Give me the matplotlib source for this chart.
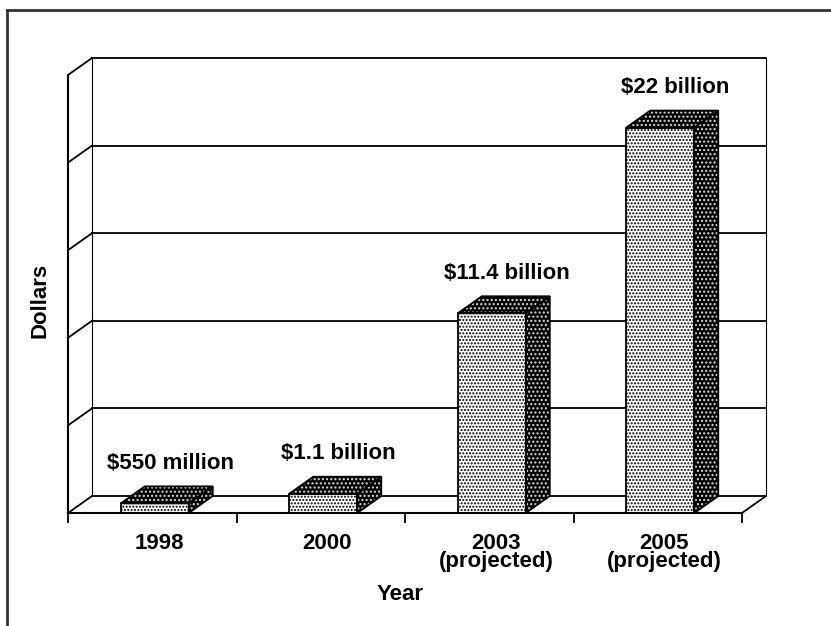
import numpy as np
import matplotlib
matplotlib.use('Agg')
import matplotlib.pyplot as plt
from matplotlib.patches import Polygon
from matplotlib.lines import Line2D

plt.rcParams['font.family'] = ['Liberation Sans', 'DejaVu Sans']
plt.rcParams['font.weight'] = 'bold'
plt.rcParams['hatch.linewidth'] = 1.0

# data (billions of dollars)
years = ['1998', '2000', '2003\n(projected)', '2005\n(projected)']
values = [0.55, 1.1, 11.4, 22.0]
value_labels = ['$550 million', '$1.1 billion', '$11.4 billion', '$22 billion']
grid_levels = [5, 10, 15, 20, 25]

W, H = 831, 626
FS = 16
fig = plt.figure(figsize=(W / 100, H / 100), dpi=100)
ax = fig.add_axes([68 / W, 113 / H, 674 / W, 438 / H])
ax.set_xlim(-0.5, 3.5)
ax.set_ylim(0, 25)

# 3d depth offset, pixels -> data units
depth_px = (24, 17)
ax_w = 674 / 4.0
ax_h = 438 / 25.0
ddx = depth_px[0] / ax_w
ddy = depth_px[1] / ax_h

line_kw = dict(color='black', lw=1.3, clip_on=False, zorder=1)
x0, x1 = -0.5, 3.5

# back wall + floor
for g in grid_levels:
    ax.add_line(Line2D([x0 + ddx, x1 + ddx], [g + ddy, g + ddy], **line_kw))
for g in [0] + grid_levels:
    ax.add_line(Line2D([x0, x0 + ddx], [g, g + ddy], **line_kw))
ax.add_line(Line2D([x0 + ddx, x1 + ddx], [ddy, ddy], **line_kw))
ax.add_line(Line2D([x0 + ddx, x0 + ddx], [ddy, 25 + ddy], color='black', lw=0.8, clip_on=False, zorder=1))
ax.add_line(Line2D([x1 + ddx, x1 + ddx], [ddy, 25 + ddy], color='black', lw=0.8, clip_on=False, zorder=1))
ax.add_line(Line2D([x1, x1 + ddx], [0, ddy], **line_kw))


def face(pts, fc, hc, hatch):
    ax.add_patch(Polygon(pts, closed=True, facecolor=fc, edgecolor=hc, hatch=hatch,
                         lw=0, clip_on=False, zorder=3))
    ax.add_patch(Polygon(pts, closed=True, fill=False, edgecolor='black',
                         lw=1.3, clip_on=False, zorder=4))


bar_w = 68 / ax_w
for i, (v, lab) in enumerate(zip(values, value_labels)):
    c = i + 0.015
    a, b = c - bar_w / 2, c + bar_w / 2
    # front
    face([(a, 0), (b, 0), (b, v), (a, v)], 'white', 'black', '.....')
    # top
    face([(a, v), (b, v), (b + ddx, v + ddy), (a + ddx, v + ddy)], 'black', '#dddddd', '....')
    # side
    face([(b, 0), (b + ddx, ddy), (b + ddx, v + ddy), (b, v)], 'black', '#dddddd', '....')
    ax.annotate(lab, xy=(c + ddx / 2 + 0.02, v + ddy), xytext=(0, 16.5),
                textcoords='offset points', ha='center', va='center',
                fontsize=FS, fontweight='bold', annotation_clip=False)

# axes
for s in ['top', 'right']:
    ax.spines[s].set_visible(False)
for s in ['left', 'bottom']:
    ax.spines[s].set_linewidth(1.5)
    ax.spines[s].set_zorder(5)
ax.set_yticks([])
ax.set_xticks(np.arange(len(years)) + 0.04)
ax.set_xticklabels(years, fontsize=FS, fontweight='bold')
for t in ax.get_xticklabels():
    t.set_linespacing(0.82)
ax.set_xticks(np.arange(-0.5, 4.0, 1.0), minor=True)
ax.tick_params(axis='x', which='major', length=0, pad=14.5)
ax.tick_params(axis='x', which='minor', length=7, width=1.3, direction='out')

fig.text(400 / W, 1 - 594 / H, 'Year', ha='center', va='center', fontsize=FS, fontweight='bold')
fig.text(40 / W, 1 - 300 / H, 'Dollars', ha='center', va='center', rotation=90,
         fontsize=FS, fontweight='bold')

# outer frame (top and left only)
fig.add_artist(Line2D([7 / W, 7 / W], [0, 1 - 10 / H], color='#333333', lw=2,
                      transform=fig.transFigure))
fig.add_artist(Line2D([7 / W, 1], [1 - 10 / H, 1 - 10 / H], color='#333333', lw=2,
                      transform=fig.transFigure))

fig.savefig('out.png', dpi=100)
